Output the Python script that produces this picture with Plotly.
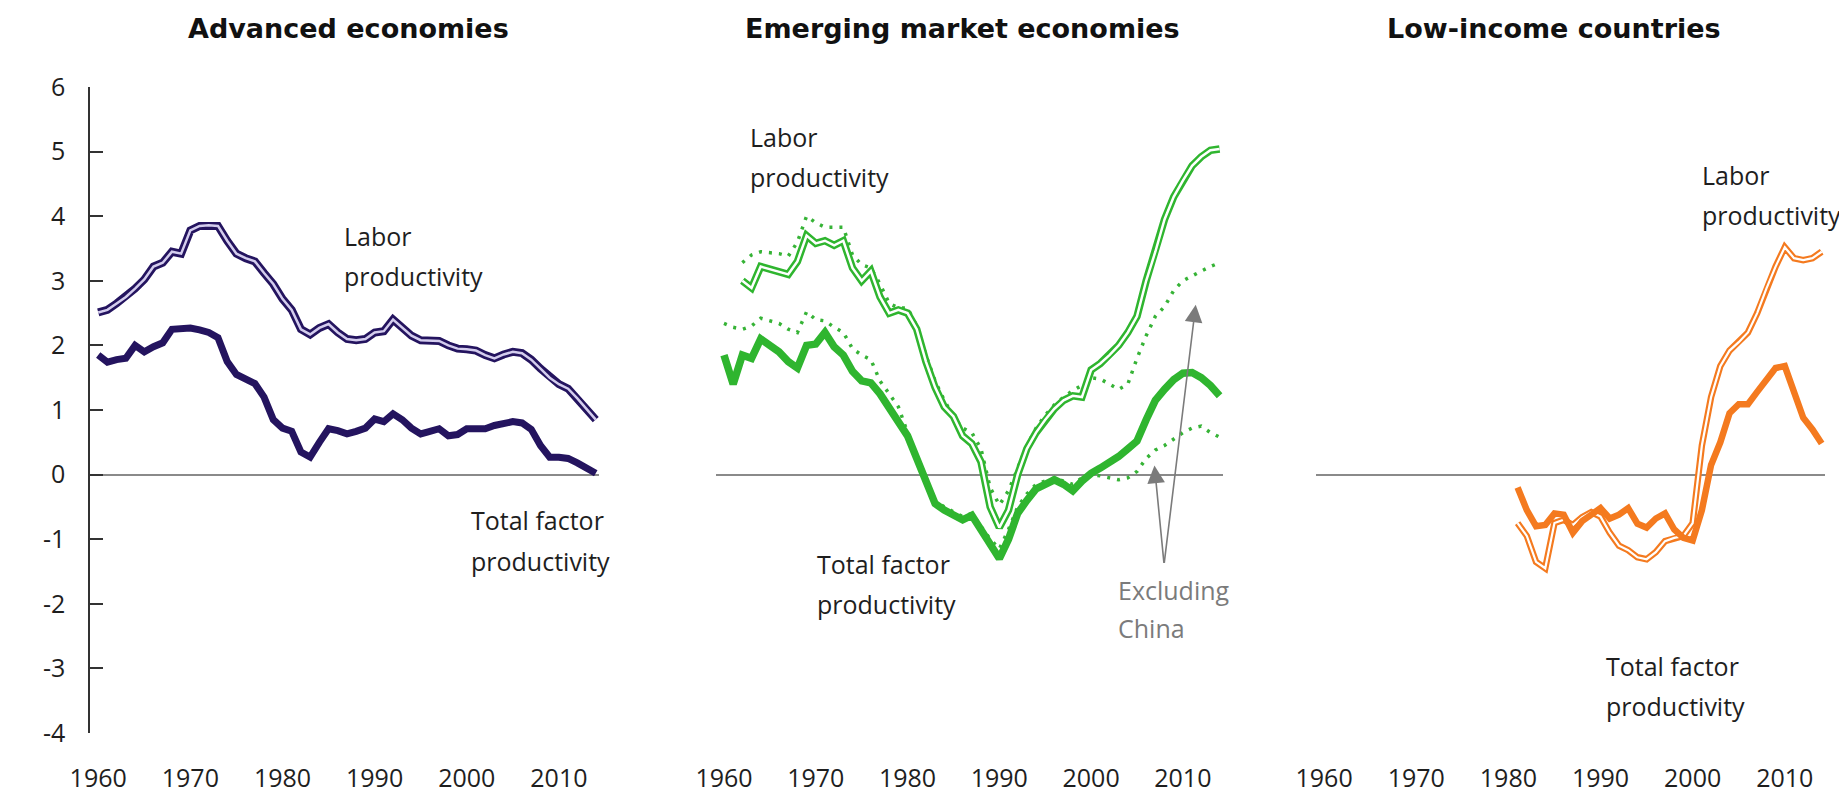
import plotly.graph_objects as go

# ── Data (annual growth, percent) ─────────────────────────
YEARS_AE = list(range(1960, 2015))
AE_LABOR = [
    2.51, 2.55, 2.65, 2.75, 2.88, 3.02, 3.22, 3.28, 3.45, 3.42,
    3.78, 3.85, 3.86, 3.85, 3.62, 3.42, 3.35, 3.30, 3.12, 2.95,
    2.72, 2.55, 2.25, 2.17, 2.27, 2.33, 2.20, 2.10, 2.08, 2.10,
    2.20, 2.22, 2.40, 2.28, 2.15, 2.08, 2.08, 2.07, 2.00, 1.95,
    1.94, 1.92, 1.85, 1.80, 1.86, 1.90, 1.88, 1.78, 1.64, 1.50,
    1.40, 1.33, 1.18, 1.02, 0.85,
]
AE_TFP = [
    1.85, 1.74, 1.78, 1.80, 2.00, 1.90, 1.98, 2.04, 2.25, 2.27,
    2.27, 2.24, 2.20, 2.12, 1.75, 1.55, 1.48, 1.41, 1.20, 0.85,
    0.72, 0.67, 0.35, 0.27, 0.50, 0.71, 0.68, 0.63, 0.67, 0.72,
    0.86, 0.82, 0.94, 0.85, 0.72, 0.63, 0.67, 0.71, 0.60, 0.62,
    0.71, 0.71, 0.71, 0.76, 0.80, 0.82, 0.80, 0.70, 0.45, 0.27,
    0.27, 0.25, 0.18, 0.10, 0.02,
]

YEARS_EM_LABOR = list(range(1962, 2015))
EM_LABOR = [
    3.00, 2.89, 3.22, 3.18, 3.14, 3.10, 3.30, 3.70, 3.58, 3.62,
    3.55, 3.62, 3.20, 3.00, 3.15, 2.75, 2.50, 2.55, 2.50, 2.25,
    1.75, 1.35, 1.05, 0.90, 0.60, 0.48, 0.20, -0.50, -0.82, -0.55,
    0.00, 0.40, 0.65, 0.85, 1.02, 1.15, 1.22, 1.20, 1.62, 1.72,
    1.85, 2.00, 2.20, 2.45, 3.00, 3.45, 3.95, 4.30, 4.55, 4.78,
    4.92, 5.02, 5.04,
]
EM_LABOR_EXCL_CHINA = [
    3.28, 3.40, 3.45, 3.44, 3.42, 3.38, 3.60, 4.00, 3.90, 3.83,
    3.83, 3.83, 3.40, 3.25, 3.20, 2.95, 2.65, 2.58, 2.58, 2.30,
    1.85, 1.45, 1.15, 0.90, 0.72, 0.65, 0.40, -0.20, -0.47, -0.25,
    0.10, 0.45, 0.72, 0.92, 1.08, 1.20, 1.30, 1.38, 1.50, 1.48,
    1.40, 1.32, 1.40, 1.80, 2.15, 2.45, 2.60, 2.85, 3.00, 3.08,
    3.15, 3.22, 3.28,
]

YEARS_EM_TFP = list(range(1960, 2015))
EM_TFP = [
    1.85, 1.40, 1.85, 1.80, 2.10, 2.00, 1.90, 1.75, 1.65, 2.00,
    2.02, 2.20, 1.98, 1.85, 1.60, 1.45, 1.42, 1.25, 1.05, 0.85,
    0.60, 0.25, -0.10, -0.45, -0.55, -0.62, -0.70, -0.63, -0.85, -1.10,
    -1.30, -1.00, -0.60, -0.40, -0.22, -0.15, -0.08, -0.15, -0.25, -0.10,
    0.02, 0.10, 0.18, 0.28, 0.40, 0.52, 0.85, 1.15, 1.32, 1.47,
    1.57, 1.58, 1.50, 1.38, 1.22,
]
EM_TFP_EXCL_CHINA = [
    2.34, 2.28, 2.25, 2.30, 2.42, 2.38, 2.34, 2.25, 2.20, 2.52,
    2.40, 2.38, 2.28, 2.20, 1.95, 1.85, 1.78, 1.45, 1.25, 1.05,
    0.65, 0.30, -0.05, -0.40, -0.50, -0.58, -0.65, -0.60, -0.80, -1.00,
    -1.15, -0.85, -0.50, -0.30, -0.15, -0.10, -0.05, -0.10, -0.15, -0.05,
    0.00, -0.02, -0.05, -0.08, -0.05, 0.05, 0.25, 0.38, 0.45, 0.55,
    0.65, 0.72, 0.75, 0.65, 0.58,
]

YEARS_LIC = list(range(1981, 2015))
LIC_LABOR = [
    -0.75, -0.95, -1.35, -1.45, -0.75, -0.70, -0.78, -0.66, -0.58, -0.65,
    -0.90, -1.10, -1.17, -1.28, -1.31, -1.20, -1.03, -0.98, -0.95, -0.75,
    0.45, 1.20, 1.68, 1.92, 2.05, 2.20, 2.50, 2.88, 3.22, 3.52,
    3.35, 3.32, 3.35, 3.45,
]
LIC_TFP = [
    -0.20, -0.55, -0.80, -0.78, -0.60, -0.62, -0.90, -0.72, -0.62, -0.52,
    -0.68, -0.62, -0.52, -0.76, -0.82, -0.68, -0.60, -0.85, -0.98, -1.02,
    -0.55, 0.15, 0.50, 0.95, 1.09, 1.09, 1.28, 1.48, 1.65, 1.68,
    1.25, 0.88, 0.70, 0.48,
]

TITLES = ["Advanced economies", "Emerging market economies", "Low-income countries"]
X_TICKS = [1960, 1970, 1980, 1990, 2000, 2010]
Y_TICKS = [-4, -3, -2, -1, 0, 1, 2, 3, 4, 5, 6]
Y_TICK_TEXT = [str(v) for v in Y_TICKS]  # plain hyphen minus, as in the source

# ── Theme ─────────────────────────────────────────────────
W, H = 1847, 793
NAVY = "#24145f"
NAVY_INNER = "#d4cdee"
GREEN = "#2fb52f"
GREEN_DOT = "#36b336"
ORANGE = "#f47a1f"
TEXT = "#1e1e1e"
GREY = "#7b7b7b"
FONT = "Open Sans, sans-serif"
TITLE_FONT = "DejaVu Sans, sans-serif"

X_RANGE = [1959.14, 2014.4]
Y_RANGE = [-4, 6]
DOMAINS = [[62 / W, 577 / W], [695 / W, 1208 / W], [1302 / W, 1817 / W]]

fig = go.Figure()


def double_line(x, y, color, inner, xa, ya, outer_w=8, inner_w=2.5):
    fig.add_trace(go.Scatter(x=x, y=y, xaxis=xa, yaxis=ya, mode="lines",
                             line=dict(color=color, width=outer_w), hoverinfo="skip"))
    fig.add_trace(go.Scatter(x=x, y=y, xaxis=xa, yaxis=ya, mode="lines",
                             line=dict(color=inner, width=inner_w), hoverinfo="skip"))


def thick_line(x, y, color, xa, ya, w=7):
    fig.add_trace(go.Scatter(x=x, y=y, xaxis=xa, yaxis=ya, mode="lines",
                             line=dict(color=color, width=w), hoverinfo="skip"))


def dotted_line(x, y, color, xa, ya):
    fig.add_trace(go.Scatter(x=x, y=y, xaxis=xa, yaxis=ya, mode="lines",
                             line=dict(color=color, width=3.5, dash="3px,7px"), hoverinfo="skip"))


# Advanced economies
double_line(YEARS_AE, AE_LABOR, NAVY, NAVY_INNER, "x", "y")
thick_line(YEARS_AE, AE_TFP, NAVY, "x", "y")

# Emerging markets
dotted_line(YEARS_EM_LABOR, EM_LABOR_EXCL_CHINA, GREEN_DOT, "x2", "y2")
dotted_line(YEARS_EM_TFP, EM_TFP_EXCL_CHINA, GREEN_DOT, "x2", "y2")
double_line(YEARS_EM_LABOR, EM_LABOR, GREEN, "white", "x2", "y2", outer_w=7.5, inner_w=2.5)
thick_line(YEARS_EM_TFP, EM_TFP, GREEN, "x2", "y2", w=7.5)

# Low-income countries
double_line(YEARS_LIC, LIC_LABOR, ORANGE, "white", "x3", "y3", outer_w=6.5, inner_w=2.2)
thick_line(YEARS_LIC, LIC_TFP, ORANGE, "x3", "y3", w=6.5)

# ── Axes ──────────────────────────────────────────────────
tick_font = dict(family=FONT, size=25, color=TEXT)
for i, dom in enumerate(DOMAINS):
    sfx = "" if i == 0 else str(i + 1)
    fig.layout["xaxis" + sfx] = dict(
        domain=dom, range=X_RANGE, anchor="y" + sfx,
        tickvals=X_TICKS, ticks="", showline=False, showgrid=False,
        zeroline=False, tickfont=tick_font, ticklabelstandoff=28,
    )
    fig.layout["yaxis" + sfx] = dict(
        domain=[0, 1], range=Y_RANGE, anchor="x" + sfx,
        showgrid=False, zeroline=True, zerolinecolor="#8a8a8a", zerolinewidth=1.5,
        showline=(i == 0), linecolor="#333333", linewidth=2,
        ticks="inside" if i == 0 else "", ticklen=13, tickwidth=2, tickcolor="#333333",
        tickvals=Y_TICKS, ticktext=Y_TICK_TEXT, showticklabels=(i == 0),
        tickfont=tick_font, ticklabelstandoff=18,
    )

# ── Annotations ───────────────────────────────────────────
notes = []
title_x = [323, 944, 1543]
for t, xpx in zip(TITLES, title_x):
    notes.append(dict(text=f"<b>{t}</b>", x=xpx / W, y=1.09, xref="paper", yref="paper",
                      showarrow=False, xanchor="center", yanchor="middle",
                      font=dict(family=TITLE_FONT, size=27, color="#111111")))


def label(lines, x, y0, ax, color=TEXT, step=0.62):
    for k, line in enumerate(lines):
        notes.append(dict(text=line, x=x, y=y0 - k * step, xref=ax, yref=ax.replace("x", "y"),
                          showarrow=False, xanchor="left", yanchor="middle",
                          font=dict(family=FONT, size=25, color=color)))


label(["Labor", "productivity"], 1986.5, 3.70, "x")
label(["Total factor", "productivity"], 2000.2, -0.71, "x")
label(["Labor", "productivity"], 1962.6, 5.22, "x2")
label(["Total factor", "productivity"], 1969.9, -1.39, "x2")
label(["Excluding", "China"], 2002.7, -1.78, "x2", color=GREY, step=0.59)
label(["Labor", "productivity"], 2000.8, 4.64, "x3")
label(["Total factor", "productivity"], 1990.4, -2.96, "x3")

# arrows pointing to the "excluding China" series
for hx, hy in [(2006.9, 0.14), (2011.4, 2.63)]:
    notes.append(dict(x=hx, y=hy, ax=2007.95, ay=-1.39, xref="x2", yref="y2",
                      axref="x2", ayref="y2", text="", showarrow=True,
                      arrowhead=2, arrowsize=2.2, arrowwidth=1.6, arrowcolor=GREY))

fig.update_layout(
    width=W, height=H,
    paper_bgcolor="white", plot_bgcolor="white",
    margin=dict(l=0, r=0, t=79, b=68),
    showlegend=False,
    annotations=notes,
    font=dict(family=FONT, color=TEXT),
)

fig.write_html("out.html")
